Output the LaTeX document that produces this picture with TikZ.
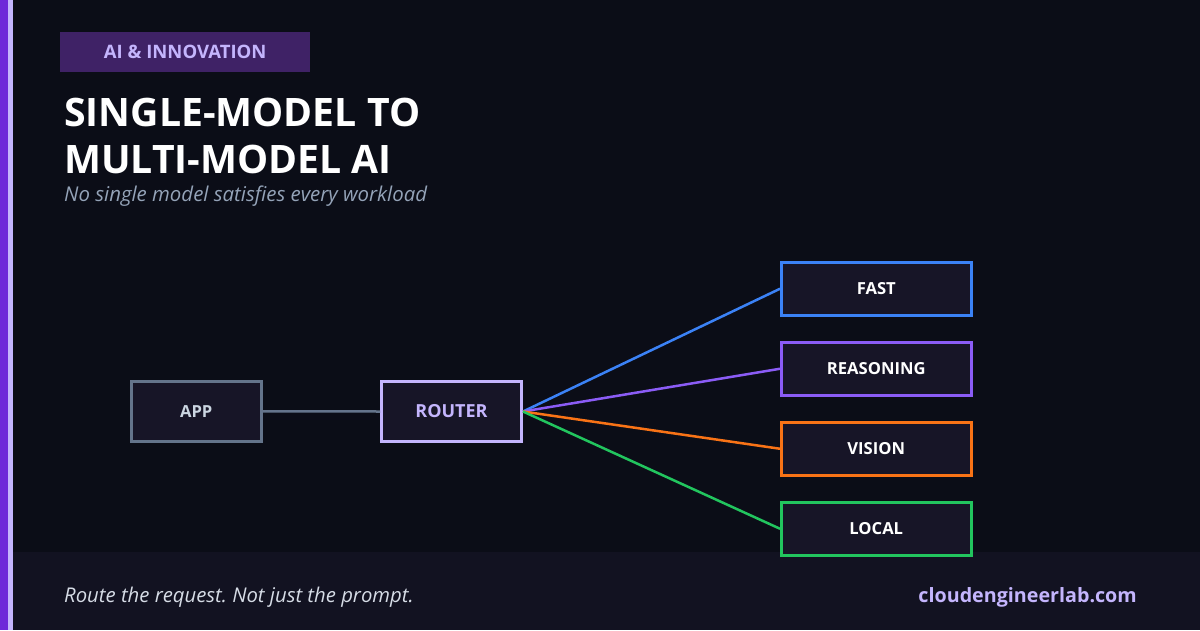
\documentclass[tikz,border=0pt]{standalone}
\usepackage{fontspec}
\setmainfont{Open Sans}
\frenchspacing
\definecolor{bg}{HTML}{0B0D17}
\definecolor{band}{HTML}{121221}
\definecolor{barA}{HTML}{6D28D9}
\definecolor{barB}{HTML}{C4B5FD}
\definecolor{tagfill}{HTML}{3F2266}
\definecolor{lav}{HTML}{C4B5FD}
\definecolor{boxfill}{HTML}{171527}
\definecolor{subg}{HTML}{94A3B8}
\definecolor{appc}{HTML}{64748B}
\definecolor{appt}{HTML}{CBD5E1}
\definecolor{cblue}{HTML}{3B82F6}
\definecolor{cpurp}{HTML}{8B5CF6}
\definecolor{corng}{HTML}{F97316}
\definecolor{cgrn}{HTML}{22C55E}
\definecolor{foot}{HTML}{D6DCE6}
\begin{document}
\begin{tikzpicture}[x=1pt,y=-1pt,
  box/.style={draw, fill=boxfill, line width=2.5pt, inner sep=0pt, anchor=north west, font=\bfseries\fontsize{16.6}{18}\selectfont, text=white},
  link/.style={line width=2.5pt}]
\useasboundingbox (0,0) rectangle (1200,630);
\fill[bg] (0,0) rectangle (1200,630);
\fill[band] (0,552) rectangle (1200,630);
\fill[barA] (0,0) rectangle (8,630);
\fill[barB] (8,0) rectangle (13,630);
% tag
\node[fill=tagfill, minimum width=250pt, minimum height=40pt, inner sep=0pt, anchor=north west, text=lav, font=\bfseries\fontsize{18.5}{20}\selectfont] (tag) at (60,32) {AI \& INNOVATION};
% title
\node[anchor=base west, inner sep=0pt, text=white, font=\bfseries\fontsize{39.2}{46}\selectfont] (t1) at (64,126) {SINGLE-MODEL TO};
\node[anchor=base west, inner sep=0pt, text=white, font=\bfseries\fontsize{39.2}{46}\selectfont] (t2) at (64,173) {MULTI-MODEL AI};
\node[anchor=base west, inner sep=0pt, text=subg, font=\itshape\fontsize{20.4}{22}\selectfont] (sub) at (64,201) {No single model satisfies every workload};
% nodes
\node[box, draw=appc, text=appt, minimum width=130pt, minimum height=60pt] (app) at (130,380) {APP};
\node[box, draw=lav, text=lav, line width=3pt, font=\bfseries\fontsize{18}{20}\selectfont, minimum width=140pt, minimum height=60pt] (router) at (380,380) {ROUTER};
\node[box, draw=cblue, minimum width=190pt, minimum height=53pt] (fast) at (780,261) {FAST};
\node[box, draw=cpurp, minimum width=190pt, minimum height=53pt] (reas) at (780,341) {REASONING};
\node[box, draw=corng, minimum width=190pt, minimum height=53pt] (vis) at (780,421) {VISION};
\node[box, draw=cgrn, minimum width=190pt, minimum height=53pt] (loc) at (780,501) {LOCAL};
% links
\draw[link, appc] (app.east) -- (router.west);
\draw[link, cblue] (router.east) -- (fast.west);
\draw[link, cpurp] (router.east) -- (reas.west);
\draw[link, corng] (router.east) -- (vis.west);
\draw[link, cgrn] (router.east) -- (loc.west);
% footer
\node[anchor=base west, inner sep=0pt, text=foot, font=\itshape\fontsize{20.3}{22}\selectfont] (f1) at (64,602) {Route the request. Not just the prompt.};
\node[anchor=base east, inner sep=0pt, text=lav, font=\bfseries\fontsize{19.7}{22}\selectfont] (f2) at (1137,602) {cloudengineerlab.com};
\end{tikzpicture}
\end{document}
